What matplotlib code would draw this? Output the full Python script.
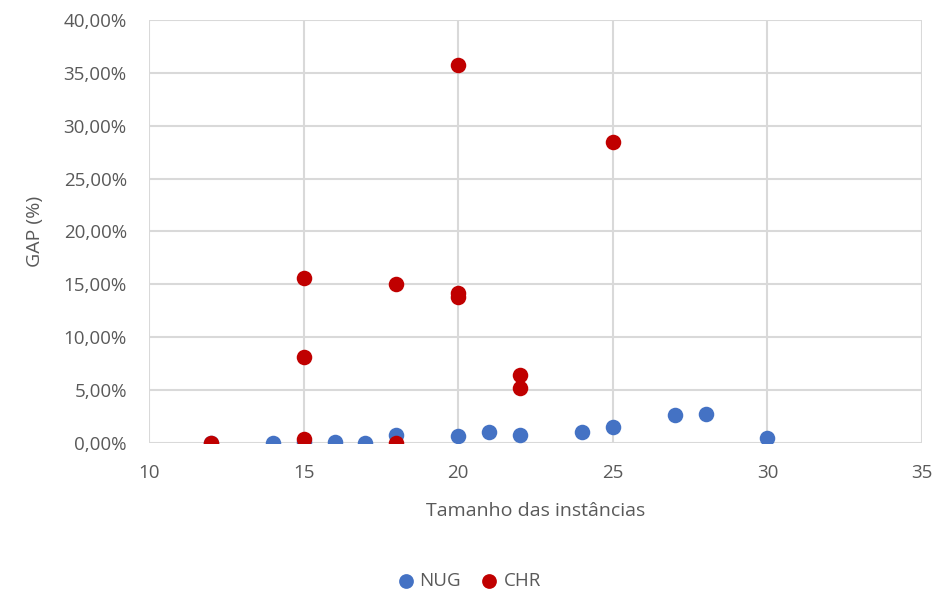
import matplotlib.pyplot as plt
from matplotlib.ticker import FuncFormatter

# NUG series
nug_x = [12, 14, 15, 16, 17, 18, 20, 21, 22, 24, 25, 27, 28, 30]
nug_y = [0.0, 0.0, 0.05, 0.1, 0.0, 0.75, 0.6, 1.05, 0.7, 1.05, 1.45, 2.65, 2.75, 0.45]

# CHR series
chr_x = [12, 15, 15, 15, 18, 18, 20, 20, 20, 22, 22, 25]
chr_y = [0.0, 0.35, 8.1, 15.6, 0.0, 15.0, 35.8, 14.2, 13.8, 6.4, 5.2, 28.5]

x_ticks = [10, 15, 20, 25, 30, 35]
y_ticks = [0, 5, 10, 15, 20, 25, 30, 35, 40]

text_col = '#595959'
grid_col = '#D9D9D9'

plt.rcParams['font.family'] = ['Open Sans', 'DejaVu Sans']

fig = plt.figure(figsize=(9.37, 5.92), dpi=100)
ax = fig.add_axes([0.159, 0.252, 0.825, 0.714])

ax.scatter(nug_x, nug_y, s=125, color='#4472C4', label='NUG', zorder=3, linewidths=0)
ax.scatter(chr_x, chr_y, s=125, color='#C00000', label='CHR', zorder=4, linewidths=0)

ax.set_xlim(10, 35)
ax.set_ylim(0, 40)
ax.set_xticks(x_ticks)
ax.set_yticks(y_ticks)
ax.yaxis.set_major_formatter(FuncFormatter(lambda v, p: f'{v:.2f}%'.replace('.', ',')))

ax.grid(True, color=grid_col, linewidth=1.5, zorder=0)
ax.set_axisbelow(True)
for s in ax.spines.values():
    s.set_visible(False)
ax.tick_params(length=0, labelsize=13.5, colors=text_col)
ax.tick_params(axis='y', pad=16)
ax.tick_params(axis='x', pad=15)

ax.set_xlabel('Tamanho das instâncias', fontsize=14, color=text_col, labelpad=15)
ax.set_ylabel('GAP (%)', fontsize=14, color=text_col, labelpad=14)

fig.legend(loc='lower center', bbox_to_anchor=(0.5, -0.025), ncol=2, frameon=False,
           fontsize=13.5, labelcolor=text_col, handletextpad=0.25, columnspacing=1.0,
           handlelength=1.0, markerscale=0.95)

fig.savefig('out.png', dpi=100)
